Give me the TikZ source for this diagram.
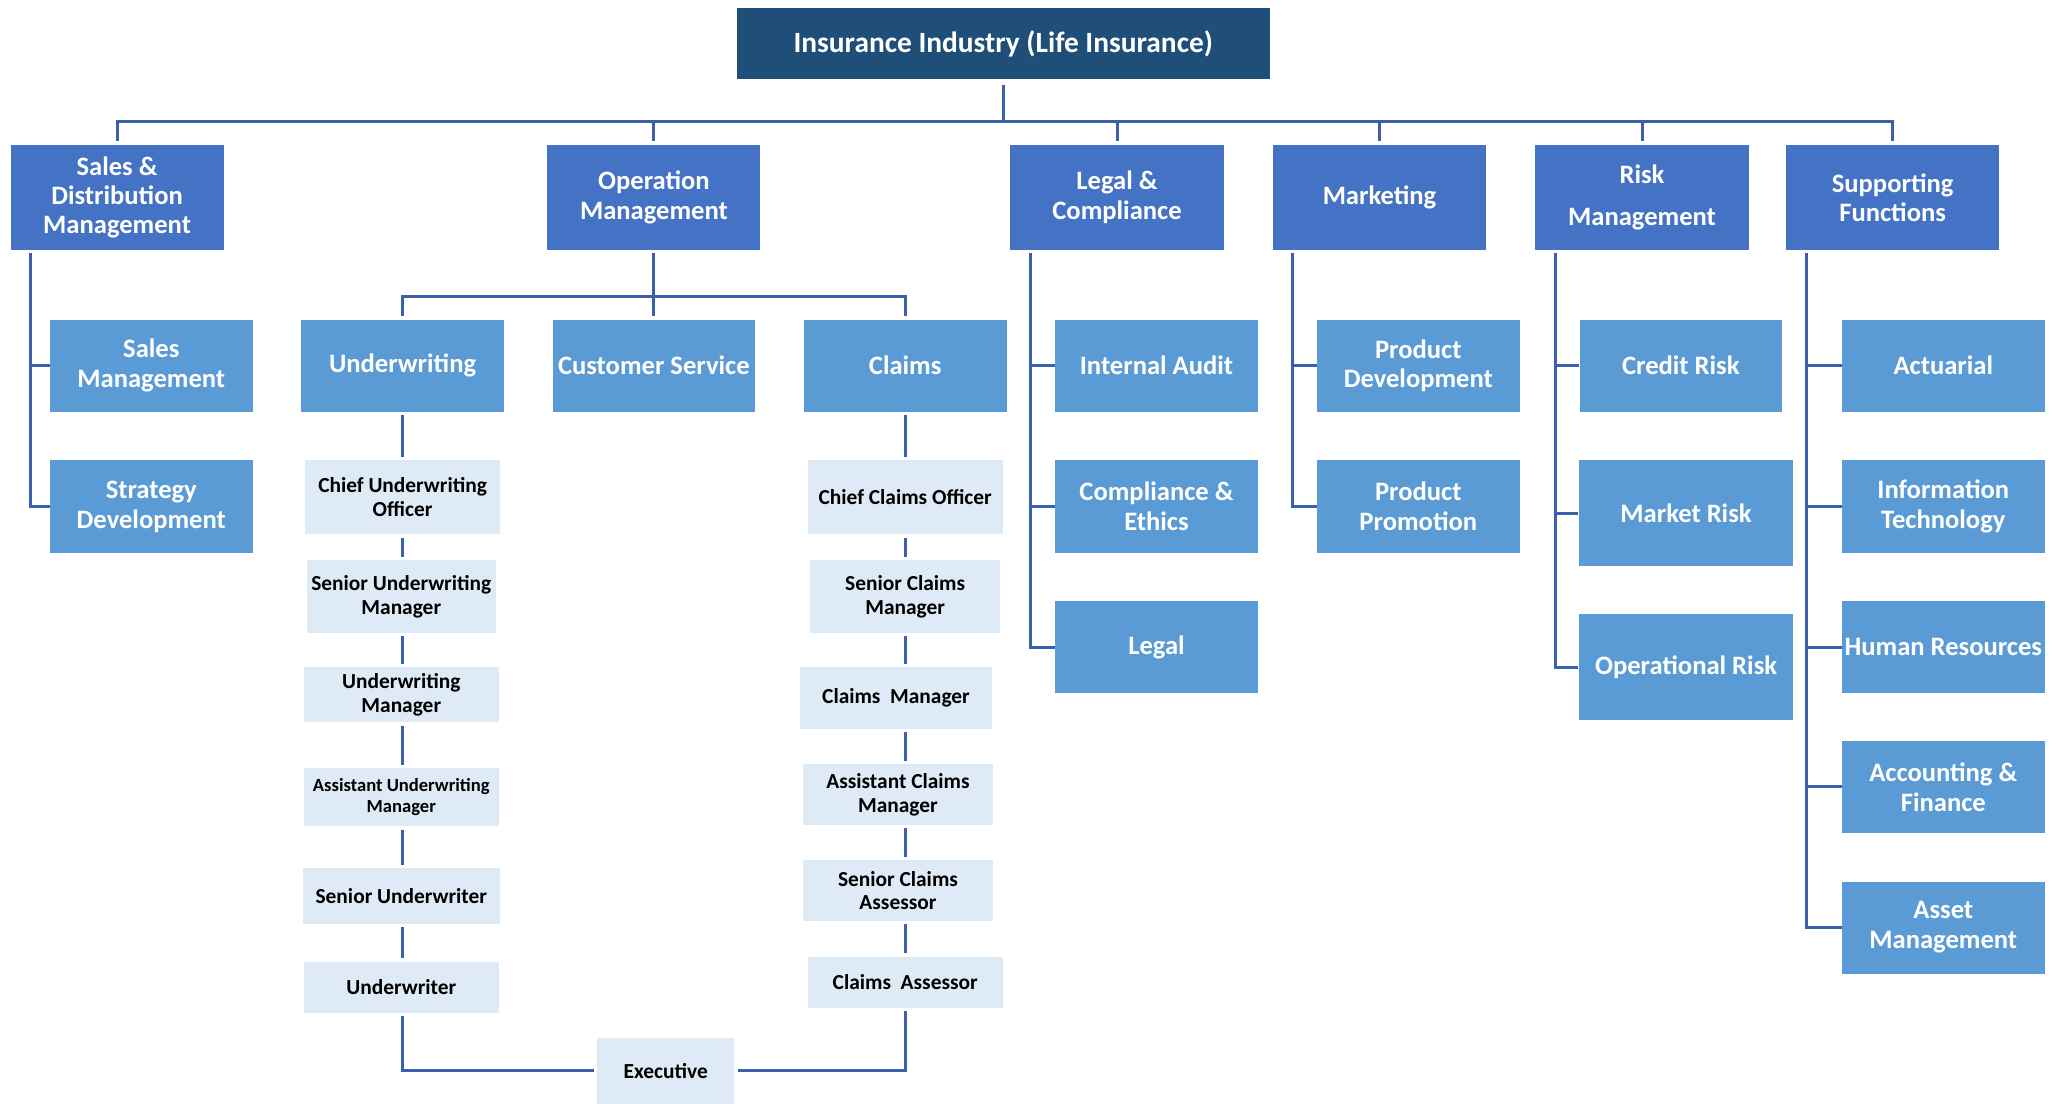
\documentclass[tikz,border=0pt]{standalone}
\usepackage{fontspec}
\setmainfont{Carlito}
\usetikzlibrary{calc}
\definecolor{rootblue}{HTML}{1F4E79}
\definecolor{headblue}{HTML}{4472C4}
\definecolor{unitblue}{HTML}{5B9BD5}
\definecolor{roleblue}{HTML}{DEEBF7}
\definecolor{linkblue}{HTML}{3A5FAD}
\tikzset{box/.style={inner sep=0pt,align=center},
		 boxsize/.style 2 args={minimum width=#1*0.6579pt,minimum height=#2*0.6579pt}}
\tikzset{root/.style={box,fill=rootblue,text=white,boxsize={405}{54},
			font={\fontsize{14.7}{17}\selectfont\bfseries}},
		 head/.style={box,fill=headblue,text=white,boxsize={162}{80},
			font={\fontsize{13.3}{14.6}\selectfont\bfseries}},
		 unit/.style={box,fill=unitblue,text=white,boxsize={154}{70},
			font={\fontsize{13.3}{15}\selectfont\bfseries}},
		 role/.style={box,fill=roleblue,text=black,
			font={\fontsize{10.7}{11.8}\selectfont\bfseries}},
		 link/.style={draw=linkblue,line width=1.5pt}}

\begin{document}
\begin{tikzpicture}[x=0.6579pt,y=-0.6579pt]
	\fill[white] (0,0) rectangle (1568,839);
	\useasboundingbox (0,0) rectangle (1568,839);

	\node[root] (root) at (762.5,33) {Insurance Industry (Life Insurance)};

	% departments
	\node[head] (sales) at (89,150) {Sales \&\\Distribution\\Management};
	\node[head] (oper) at (497,150) {Operation\\Management};
	\node[head] (legal) at (849,150) {Legal \&\\Compliance};
	\node[head] (mkt) at (1048.5,150) {Marketing};
	\node[head] (risk) at (1248,150) {Risk\\[6.5pt]Management};
	\node[head] (supp) at (1438.5,150) {Supporting\\Functions};

	% units
	\node[unit] (smgmt) at (115,278) {Sales\\Management};
	\node[unit] (strat) at (115,385) {Strategy\\Development};
	\node[unit] (uw) at (306,278) {Underwriting};
	\node[unit] (cs) at (497,278) {Customer Service};
	\node[unit] (claims) at (688,278) {Claims};
	\node[unit] (audit) at (879,278) {Internal Audit};
	\node[unit] (comp) at (879,385) {Compliance \&\\Ethics};
	\node[unit] (legalu) at (879,492) {Legal};
	\node[unit] (pdev) at (1078,278) {Product\\Development};
	\node[unit] (pprom) at (1078,385) {Product\\Promotion};
	\node[unit] (credit) at (1277.5,278) {Credit Risk};
	\node[unit,boxsize={163}{80}] (market) at (1281.5,390) {Market Risk};
	\node[unit,boxsize={163}{80}] (oprisk) at (1281.5,507) {Operational Risk};
	\node[unit] (act) at (1477,278) {Actuarial};
	\node[unit] (it) at (1477,385) {Information\\Technology};
	\node[unit] (hr) at (1477,492) {Human Resources};
	\node[unit] (acct) at (1477,598) {Accounting \&\\Finance};
	\node[unit] (asset) at (1477,705) {Asset\\Management};

	% underwriting roles
	\node[role,boxsize={148}{56}] (cuo) at (306,378) {Chief Underwriting\\Officer};
	\node[role,boxsize={144}{55}] (sum) at (305,453.5) {Senior Underwriting\\Manager};
	\node[role,boxsize={148}{42}] (um) at (305,528) {Underwriting\\Manager};
	\node[role,boxsize={148}{44},font={\fontsize{9.3}{10.5}\selectfont\bfseries}]
		(aum) at (305,606) {Assistant Underwriting\\Manager};
	\node[role,boxsize={150}{42}] (suw) at (305,681) {Senior Underwriter};
	\node[role,boxsize={148}{39}] (uwr) at (305,750.5) {Underwriter};

	% claims roles
	\node[role,boxsize={148}{56}] (cco) at (688,378) {Chief Claims Officer};
	\node[role,boxsize={144}{55}] (scm) at (688,453.5) {Senior Claims\\Manager};
	\node[role,boxsize={146}{47}] (cm) at (681,530.5) {Claims\ \ Manager};
	\node[role,boxsize={145}{46}] (acm) at (682.5,604) {Assistant Claims\\Manager};
	\node[role,boxsize={145}{46}] (sca) at (682.5,677) {Senior Claims\\Assessor};
	\node[role,boxsize={148}{39}] (ca) at (688,746.5) {Claims\ \ Assessor};

	\node[role,boxsize={104}{50}] (exec) at (506,814) {Executive};

	% top bus
	\coordinate (bus) at (762.5,92);
	\draw[link,shorten <=3pt] (root) -- (bus);
	\foreach \n in {sales,oper,legal,mkt,risk,supp}
		\draw[link,shorten >=1.5pt] (bus) -| (\n.north);

	\coordinate (opbus) at (497,225);
	\draw[link,shorten <=1.5pt] (oper) -- (opbus);
	\foreach \n in {uw,cs,claims}
		\draw[link,shorten >=1.5pt] (opbus) -| (\n.north);

	% side brackets
	\foreach \p/\c in {sales/smgmt,sales/strat,legal/audit,legal/comp,legal/legalu,
			mkt/pdev,mkt/pprom,risk/credit,risk/market,risk/oprisk,
			supp/act,supp/it,supp/hr,supp/acct,supp/asset}
		\draw[link,shorten <=1.5pt] ($(\p.south west)+(15.5,0)$) |- (\c.west);

	% role chains
	\foreach \a/\b in {uw/cuo,cuo/sum,sum/um,um/aum,aum/suw,suw/uwr}
		\draw[link,shorten <=1.5pt,shorten >=1.5pt] (\a.south -| uw) -- (\b.north -| uw);
	\foreach \a/\b in {claims/cco,cco/scm,scm/cm,cm/acm,acm/sca,sca/ca}
		\draw[link,shorten <=1.5pt,shorten >=1.5pt] (\a.south -| claims) -- (\b.north -| claims);

	\draw[link,shorten <=1.5pt,shorten >=1.5pt] (uwr.south -| uw) |- (exec.west);
	\draw[link,shorten <=1.5pt,shorten >=1.5pt] (ca.south -| claims) |- (exec.east);
\end{tikzpicture}
\end{document}
